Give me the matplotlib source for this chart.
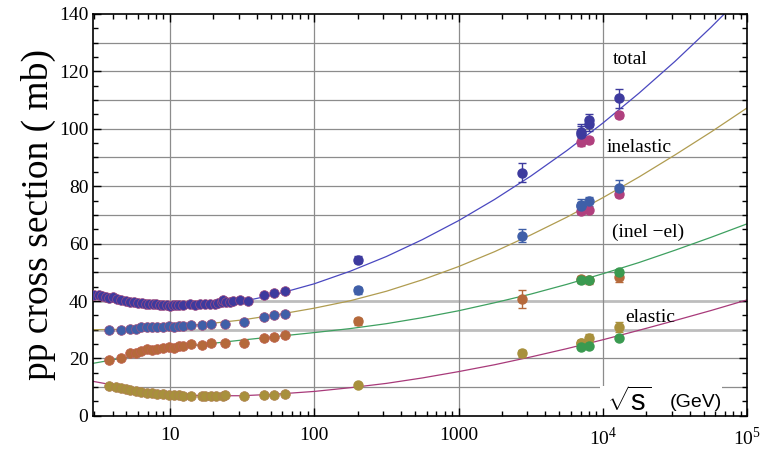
import numpy as np
import matplotlib.pyplot as plt
from matplotlib.patches import Rectangle
from matplotlib.ticker import FixedLocator, MultipleLocator, LogLocator, NullFormatter

plt.rcParams["font.family"] = ["Liberation Serif", "DejaVu Serif"]
plt.rcParams["mathtext.fontset"] = "custom"
plt.rcParams["mathtext.rm"] = "Liberation Serif"
plt.rcParams["mathtext.sf"] = "Liberation Sans"

# fit curves at quarter-decade steps (sqrt(s) in GeV, sigma in mb)
curve_x = [2.94, 5.62, 10, 17.8, 31.6, 56.2, 100, 178, 316, 562, 1000, 1778, 3162, 5623,
           1e4, 17783, 31623, 56234, 1e5]
total_curve = [42.3, 39.8, 38.5, 38.5, 39.8, 42.5, 46.0, 50.4, 55.5, 61.4, 68.0, 75.4, 83.5,
               92.4, 102.0, 112.4, 123.5, 135.4, 148.0]
inel_curve = [30.0, 30.2, 31.0, 32.0, 33.4, 35.3, 37.5, 40.1, 43.4, 47.4, 52.0, 57.2, 63.0,
              69.2, 76.0, 83.2, 90.9, 98.9, 107.3]
inelel_curve = [18.3, 20.8, 23.5, 25.0, 26.4, 27.7, 29.0, 30.4, 32.1, 34.2, 36.6, 39.4, 42.4,
                45.8, 49.5, 53.4, 57.7, 62.2, 66.9]
elastic_curve = [12.0, 9.4, 7.5, 7.0, 7.0, 7.6, 8.5, 9.8, 11.3, 13.2, 15.4, 17.8, 20.5, 23.4,
                 26.5, 29.8, 33.2, 36.7, 40.4]

# low energy data
tot_x = [3.0, 3.2, 3.4, 3.6, 3.8, 4.0, 4.3, 4.6, 5.0, 5.3, 5.6, 6.0, 6.4, 6.8, 7.2, 7.6,
         8.0, 8.5, 9.0, 9.5, 10.0, 10.5, 11.0, 11.5, 12.3, 13.8, 15.0, 16.2, 17.5, 19.0,
         20.5, 21.7, 23.0, 23.5, 24.5, 26.0, 27.4, 30.6, 35.0, 44.7, 52.8, 62.5]
tot_y = [42.2, 42.0, 41.8, 41.5, 41.2, 41.3, 40.6, 40.3, 40.0, 39.8, 39.5, 39.3, 39.2, 39.1,
         39.0, 38.9, 38.8, 38.7, 38.6, 38.6, 38.4, 38.5, 38.6, 38.5, 38.6, 38.8, 38.7, 38.9,
         38.8, 38.9, 39.0, 39.2, 39.5, 40.2, 39.8, 39.7, 40.1, 40.3, 40.0, 42.2, 42.7, 43.5]

lo_x = [3.8, 4.6, 5.3, 5.8, 6.3, 6.9, 7.5, 8.2, 9.0, 9.9, 10.7, 11.5, 12.3, 14.0, 16.6,
        19.3, 23.9, 32.4, 44.7, 52.8, 62.5]
inel_y = [29.8, 30.0, 30.3, 30.4, 30.8, 31.0, 30.8, 30.8, 31.0, 31.2, 31.0, 31.3, 31.2,
          31.7, 31.5, 31.9, 32.1, 32.7, 34.3, 35.0, 35.5]
inelel_y = [19.5, 20.2, 21.8, 22.0, 22.5, 23.2, 22.8, 23.4, 23.8, 24.0, 23.8, 24.2, 24.3,
            24.9, 24.8, 25.2, 25.5, 25.5, 27.0, 27.5, 28.0]

el_x = [3.8, 4.2, 4.6, 5.0, 5.3, 5.8, 6.3, 6.9, 7.5, 8.2, 9.0, 9.9, 10.7, 11.5, 12.3, 14.0,
        16.6, 17.5, 19.3, 21.0, 23.5, 24.0, 32.4, 44.7, 52.8, 62.5]
el_y = [10.5, 10.0, 9.8, 9.2, 9.0, 8.6, 8.3, 8.0, 7.8, 7.6, 7.5, 7.4, 7.2, 7.1, 7.0, 7.0,
        7.0, 6.9, 7.0, 6.9, 7.0, 7.4, 7.0, 7.3, 7.4, 7.5]

# high energy data with errors
tot_hx = [200, 2760, 7000, 7000, 8000, 8000, 13000]
tot_hy = [54.4, 84.7, 98.3, 98.9, 101.5, 102.9, 110.6]
tot_he = [1.2, 3.3, 2.8, 2.8, 2.1, 2.3, 3.4]
atl_x = [7000, 8000, 13000]
atl_tot = [95.4, 96.1, 104.8]
atl_tot_e = [1.4, 0.9, 1.1]
inel_hx = [200, 2760, 7000, 7000, 8000, 13000]
inel_hy = [43.7, 62.8, 73.1, 73.5, 74.7, 79.5]
inel_he = [1.2, 2.4, 1.5, 2.0, 1.7, 2.5]
atl_inel = [71.3, 71.7, 77.4]
atl_inel_e = [0.9, 0.8, 1.0]
ie_hx = [200, 2760, 7000, 8000, 13000]
ie_hy = [32.9, 40.8, 47.5, 47.2, 48.5]
ie_he = [1.2, 3.2, 1.2, 1.3, 1.8]
grn_ie = [47.4, 47.3, 50.2]
grn_ie_e = [0.5, 0.5, 0.6]
el_hx = [200, 2760, 7000, 7000, 8000, 13000]
el_hy = [10.7, 21.8, 25.3, 25.4, 27.1, 31.0]
el_he = [0.3, 1.3, 1.1, 1.1, 1.4, 1.7]
grn_el = [24.0, 24.3, 27.1]
grn_el_e = [0.4, 0.4, 0.5]

c_tot = "#3d3a9e"
c_inel = "#3f5fa8"
c_ie = "#b5693b"
c_el = "#a8903c"
c_pink = "#b0407e"
c_grn = "#3a9a50"

fig = plt.figure(figsize=(7.64, 4.51), dpi=100)
ax = fig.add_axes([0.122, 0.078, 0.856, 0.891])

# grid
for yv in [10, 20, 50, 60, 70, 80, 90, 100, 110, 120, 130]:
    ax.axhline(yv, color="#8c8c8c", lw=0.9, zorder=0)
for yv in [30, 40]:
    ax.axhline(yv, color="#bdbdbd", lw=2.0, zorder=0)
for xv in [10, 100, 1000, 1e4]:
    ax.axvline(xv, color="#8c8c8c", lw=0.9, zorder=0)

ax.plot(curve_x, total_curve, color="#4a48c0", lw=0.9, zorder=2)
ax.plot(curve_x, inel_curve, color="#b09c50", lw=0.9, zorder=2)
ax.plot(curve_x, inelel_curve, color="#3ea060", lw=0.9, zorder=2)
ax.plot(curve_x, elastic_curve, color="#a83a7a", lw=0.9, zorder=2)

ms = 7
ax.plot(tot_x, tot_y, "o", color=c_tot, ms=ms, mec="#a04a80", mew=0.5, zorder=3)
ax.plot(lo_x, inel_y, "o", color=c_inel, ms=ms, mec="#a05080", mew=0.5, zorder=3)
ax.plot(lo_x, inelel_y, "o", color=c_ie, ms=ms, mec="#c06050", mew=0.5, zorder=3)
ax.plot(el_x, el_y, "o", color=c_el, ms=ms, mec="#b08050", mew=0.5, zorder=3)

kw = dict(fmt="o", ms=6.5, capsize=3, elinewidth=1, capthick=1, zorder=3)
ax.errorbar(atl_x, atl_tot, yerr=atl_tot_e, color=c_pink, **kw)
ax.errorbar(tot_hx, tot_hy, yerr=tot_he, color=c_tot, **kw)
ax.errorbar(atl_x, atl_inel, yerr=atl_inel_e, color=c_pink, **kw)
ax.errorbar(inel_hx, inel_hy, yerr=inel_he, color=c_inel, **kw)
ax.errorbar(ie_hx, ie_hy, yerr=ie_he, color=c_ie, **kw)
ax.errorbar(atl_x, grn_ie, yerr=grn_ie_e, color=c_grn, **kw)
ax.errorbar(el_hx, el_hy, yerr=el_he, color=c_el, **kw)
ax.errorbar(atl_x, grn_el, yerr=grn_el_e, color=c_grn, **kw)

ax.set_xscale("log")
ax.set_xlim(2.94, 1e5)
ax.set_ylim(0, 140)

ax.xaxis.set_major_locator(FixedLocator([10, 100, 1000, 1e4, 1e5]))
ax.set_xticklabels(["10", "100", "1000", r"$10^4$", r"$10^5$"])
ax.xaxis.set_minor_locator(LogLocator(base=10, subs=np.arange(2, 10)))
ax.xaxis.set_minor_formatter(NullFormatter())
ax.yaxis.set_major_locator(MultipleLocator(20))
ax.yaxis.set_minor_locator(MultipleLocator(5))
ax.tick_params(which="both", direction="in", top=True, right=True, labelsize=14, width=1)
ax.tick_params(which="major", length=6)
ax.tick_params(which="minor", length=3.5)
ax.tick_params(axis="x", pad=8)
for s in ax.spines.values():
    s.set_linewidth(1.2)

ax.set_ylabel("pp cross section ( mb)", fontsize=27, labelpad=2)

ax.text(11800, 124, "total", fontsize=14, va="center", ha="left")
ax.text(10700, 93.4, "inelastic", fontsize=14, va="center", ha="left")
ax.text(11600, 63.8, "(inel \u2212el)", fontsize=14, va="center", ha="left")
ax.text(14300, 34.1, "elastic", fontsize=14, va="center", ha="left")

# white patch behind the sqrt(s) (GeV) label, hiding the grid there
ax.add_patch(Rectangle((9600, 0.4), 67000 - 9600, 10.0, facecolor="white",
                       edgecolor="none", zorder=1))
ax.text(10600, 4.9, r"$\sqrt{\mathsf{s}}$", fontsize=21, va="center", ha="left", zorder=5)
ax.text(29000, 4.6, "(GeV)", fontsize=14, va="center", ha="left",
        family="Liberation Sans", zorder=5)

fig.savefig("out.png", dpi=100)
